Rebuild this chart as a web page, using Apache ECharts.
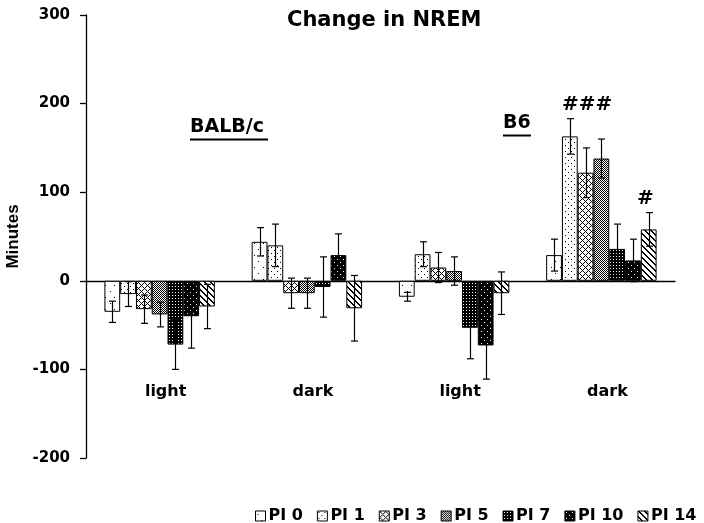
<!DOCTYPE html>
<html>
<head>
<meta charset="utf-8">
<script src="https://cdn.jsdelivr.net/npm/echarts@6/dist/echarts.min.js"></script>
<style>html,body{margin:0;padding:0;background:#fff}#c{width:704px;height:523px}</style>
</head>
<body>
<div id="c"></div>
<script>
// ---- data ----
const categories = ['light', 'dark', 'light', 'dark'];
const seriesNames = ['PI 0', 'PI 1', 'PI 3', 'PI 5', 'PI 7', 'PI 10', 'PI 14'];
const pi0  = [-35, 44, -18, 29];
const pi1  = [-15, 40, 30, 163];
const pi3  = [-32, -14, 15, 122];
const pi5  = [-38, -14, 11, 138];
const pi7  = [-72, -7, -53, 36];
const pi10 = [-40, 29, -73, 23];
const pi14 = [-29, -31, -14, 58];
const err0  = [12, 16, 5, 18];
const err1  = [14, 24, 14, 20];
const err3  = [16, 17, 17, 28];
const err5  = [14, 17, 16, 22];
const err7  = [28, 34, 35, 28];
const err10 = [36, 24, 38, 24];
const err14 = [25, 37, 24, 19];
const yTicks = [-200, -100, 0, 100, 200, 300];
const phaseLabelValue = -125;

const values = [pi0, pi1, pi3, pi5, pi7, pi10, pi14];
const errors = [err0, err1, err3, err5, err7, err10, err14];

// ---- patterns ----
function tile(w, h, bg, fg, test) {
  const cv = document.createElement('canvas');
  cv.width = w; cv.height = h;
  const ctx = cv.getContext('2d');
  ctx.fillStyle = bg; ctx.fillRect(0, 0, w, h);
  ctx.fillStyle = fg;
  for (let y = 0; y < h; y++) for (let x = 0; x < w; x++) if (test(x, y)) ctx.fillRect(x, y, 1, 1);
  return { image: cv, repeat: 'repeat' };
}
const patterns = [
  tile(9, 12, '#fff', '#000', (x, y) => (x === 2 && y === 3) || (x === 6 && y === 9)),
  tile(6, 6, '#fff', '#000', (x, y) => (x === 1 && y === 1) || (x === 4 && y === 4)),
  tile(6, 6, '#fff', '#000', (x, y) => (x + y) % 6 === 0 || (x - y + 6) % 6 === 0),
  tile(2, 2, '#fff', '#000', (x, y) => (x + y) % 2 === 0),
  tile(3, 3, '#000', '#fff', (x, y) => x === 1 && y === 1),
  tile(6, 6, '#000', '#fff', (x, y) => (x === 1 && y === 1) || (x === 4 && y === 4)),
  tile(6, 6, '#fff', '#000', (x, y) => (x - y + 6) % 6 === 0 || (x - y + 6) % 6 === 1)
];

const FONT = 'DejaVu Sans';
const chart = echarts.init(document.getElementById('c'), null, { renderer: 'canvas' });

const nBars = seriesNames.length;
const barSeries = seriesNames.map((name, i) => ({
  name, type: 'bar', barGap: '0%', barCategoryGap: '25%',
  data: values[i],
  itemStyle: { color: patterns[i], borderColor: '#000', borderWidth: 1 },
  z: 2
}));
const errSeries = seriesNames.map((name, i) => ({
  type: 'custom', name: name + ' sd', z: 5, silent: true,
  encode: { x: 0, y: 1 },
  data: categories.map((c, k) => [k, values[i][k], errors[i][k]]),
  renderItem: (params, api) => {
    const idx = api.value(0), v = api.value(1), e = api.value(2);
    const c = api.coord([idx, v]);
    const band = api.size([1, 0])[0];
    const bw = band * 0.75 / nBars;
    const x = Math.round(c[0] - band * 0.375 + bw * (i + 0.5)) + 0.5;
    const t = api.coord([idx, v + e])[1];
    const b = api.coord([idx, v - e])[1];
    const hw = 3.5;
    const st = { stroke: '#000', lineWidth: 1.2 };
    return { type: 'group', children: [
      { type: 'line', shape: { x1: x, y1: t, x2: x, y2: b }, style: st },
      { type: 'line', shape: { x1: x - hw, y1: t, x2: x + hw, y2: t }, style: st },
      { type: 'line', shape: { x1: x - hw, y1: b, x2: x + hw, y2: b }, style: st }
    ]};
  }
}));
const phaseSeries = {
  type: 'scatter', symbolSize: 0, silent: true, z: 6,
  itemStyle: { opacity: 1, color: '#000' },
  data: categories.map((c, k) => [k, phaseLabelValue]),
  label: {
    show: true, position: 'inside', offset: [6, 0],
    formatter: p => categories[p.dataIndex],
    fontFamily: FONT, fontWeight: 'bold', fontSize: 16, color: '#000', opacity: 1
  }
};

chart.setOption({
  animation: false,
  backgroundColor: '#fff',
  title: { text: 'Change in NREM', left: 282, top: 5,
    textStyle: { fontFamily: FONT, fontWeight: 'bold', fontSize: 21, color: '#000' } },
  grid: { left: 86, right: 29, top: 15, bottom: 65, containLabel: false, outerBoundsMode: 'none' },
  legend: {
    data: seriesNames, left: 250, top: 503, icon: 'rect', itemWidth: 10, itemHeight: 10, itemGap: 14,
    itemStyle: { borderColor: '#000', borderWidth: 1 },
    textStyle: { fontFamily: FONT, fontWeight: 'bold', fontSize: 16, color: '#000', padding: [0, 0, 0, -2] }
  },
  xAxis: {
    type: 'category', data: categories,
    axisLine: { onZero: true, lineStyle: { color: '#000', width: 1.3 } },
    axisTick: { show: false },
    axisLabel: { show: false },
    splitLine: { show: false }
  },
  yAxis: {
    type: 'value', min: yTicks[0], max: yTicks[yTicks.length - 1], interval: 100,
    name: 'Minutes', nameLocation: 'middle', nameGap: 57,
    nameTextStyle: { fontFamily: 'Liberation Sans', fontWeight: 'bold', fontSize: 17, color: '#000' },
    axisLine: { show: true, lineStyle: { color: '#000', width: 1.3 } },
    axisTick: { show: true, length: 6, lineStyle: { color: '#000', width: 1.3 } },
    axisLabel: { margin: 16, fontFamily: FONT, fontWeight: 'bold', fontSize: 15, color: '#000' },
    splitLine: { show: false }
  },
  graphic: [
    { type: 'text', left: 190, top: 118, style: { text: 'BALB/c', font: 'bold 19px "DejaVu Sans"', fill: '#000' } },
    { type: 'rect', left: 190, top: 138.5, shape: { width: 78, height: 2 }, style: { fill: '#000' } },
    { type: 'text', left: 503, top: 114, style: { text: 'B6', font: 'bold 19px "DejaVu Sans"', fill: '#000' } },
    { type: 'rect', left: 503, top: 134.5, shape: { width: 28, height: 2 }, style: { fill: '#000' } },
    { type: 'text', left: 562, top: 95, style: { text: '###', font: 'bold 20px "DejaVu Sans"', fill: '#000' } },
    { type: 'text', left: 637, top: 189, style: { text: '#', font: 'bold 20px "DejaVu Sans"', fill: '#000' } }
  ],
  series: [...barSeries, ...errSeries, phaseSeries]
});
</script>
</body>
</html>
